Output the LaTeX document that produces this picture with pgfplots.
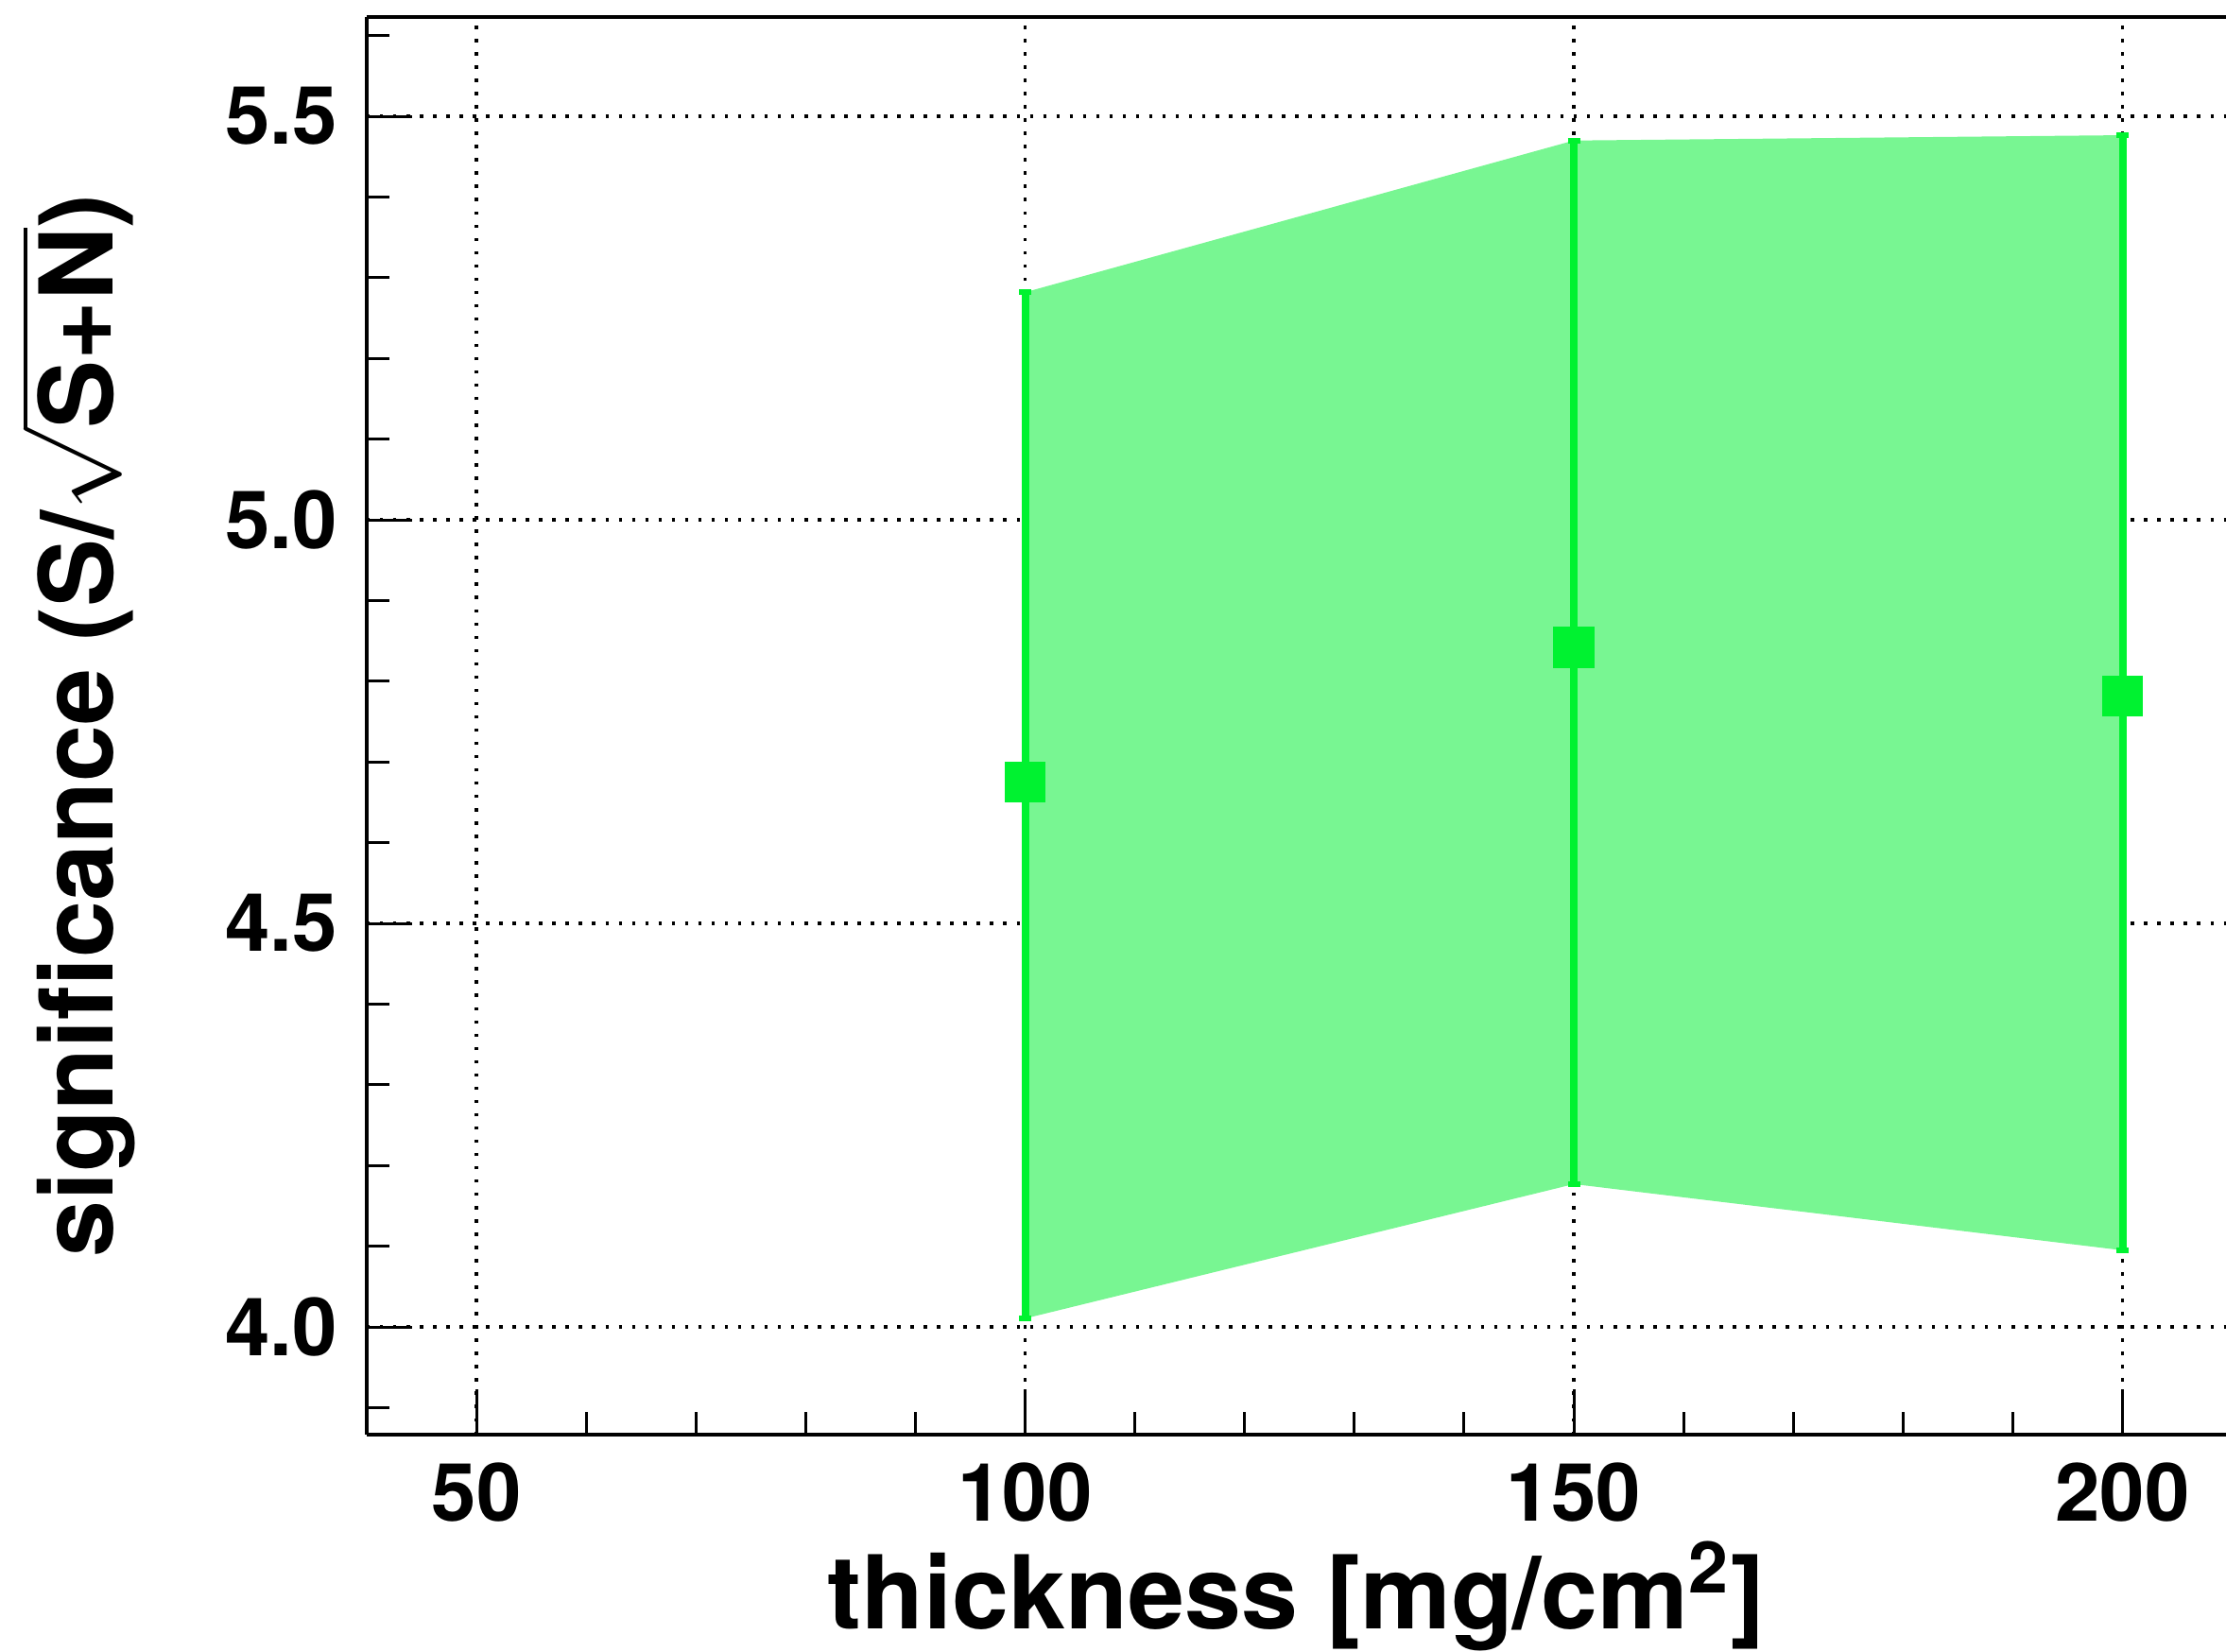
\documentclass[border=0pt]{standalone}
\usepackage{pgfplots}
\pgfplotsset{compat=1.18}
\usepackage{fontspec}
\setmainfont{TeX Gyre Heros}
\definecolor{rootgreen}{RGB}{0,242,48}
\definecolor{bandgreen}{RGB}{120,246,146}
\begin{document}
\begin{tikzpicture}
\begin{axis}[
  at={(0,0)}, anchor=south west,
  scale only axis,
  width=392.5pt, height=299.3pt,
  xmin=40, xmax=209.43,
  ymin=3.8665, ymax=5.623,
  axis x line*=box, axis y line*=left,
  axis line style={-, line width=0.9pt, black},
  xtick pos=left,
  tick align=inside,
  xtick={50,100,150,200},
  ytick={4,4.5,5,5.5},
  minor xtick={60,70,80,90,110,120,130,140,160,170,180,190},
  minor ytick={3.9,4.1,4.2,4.3,4.4,4.6,4.7,4.8,4.9,5.1,5.2,5.3,5.4,5.6},
  major tick length=9.5pt,
  minor tick length=4.8pt,
  every tick/.style={black, line width=0.6pt},
  grid=major,
  major grid style={black, line width=0.7pt, dash pattern=on 0.7pt off 2.1pt},
  /pgf/number format/assume math mode=true,
  xticklabel style={font=\fontsize{17}{20}\selectfont\bfseries, inner sep=0pt, yshift=-5.8pt},
  yticklabel style={font=\fontsize{17}{20}\selectfont\bfseries, inner sep=0pt, xshift=-6pt,
    /pgf/number format/.cd, fixed, fixed zerofill, precision=1},
  xlabel={thickness [mg/cm\textsuperscript{2}]},
  ylabel={significance (S/$\sqrt{\mbox{\bfseries S+N}}$)},
  every axis x label/.style={at={(axis description cs:0.5,-0.1367)}, anchor=base, inner sep=0pt,
    font=\fontsize{21.5}{24}\selectfont\bfseries},
  every axis y label/.style={at={(axis description cs:-0.1363,0.5)}, anchor=base, rotate=90, inner sep=0pt,
    font=\fontsize{21.5}{24}\selectfont\bfseries},
]
% uncertainty band
\addplot[fill=bandgreen, draw=none] coordinates {
  (100,4.0105) (150,4.177) (200,4.095) (200,5.4766) (150,5.47) (100,5.282)
} -- cycle;
% points with asymmetric errors
\addplot[only marks, mark=square*, mark size=4.1pt, rootgreen,
  mark options={draw=rootgreen, fill=rootgreen},
  error bars/.cd, y dir=both, y explicit,
  error bar style={line width=1.6pt, rootgreen},
  error mark options={rotate=90, mark size=1.3pt, line width=1.2pt, rootgreen}]
coordinates {
  (100,4.675) += (0,0.607) -= (0,0.6645)
  (150,4.842) += (0,0.628) -= (0,0.665)
  (200,4.782) += (0,0.6946) -= (0,0.687)
};
\end{axis}
\pgfresetboundingbox
\path[use as bounding box] (-77.4pt,-45.7pt) rectangle (392.5pt,302.9pt);
\end{tikzpicture}
\end{document}
